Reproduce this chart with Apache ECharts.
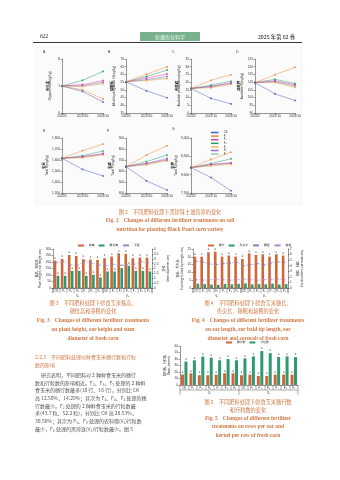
<!DOCTYPE html>
<html><head><meta charset="utf-8">
<script src="https://cdn.jsdelivr.net/npm/echarts@6/dist/echarts.min.js"></script>
<style>html,body{margin:0;padding:0;background:#fff}#c{width:340px;height:480px}</style>
</head><body><div id="c"></div>
<script>
// ---------- DATA ----------
const dates = ['2022/5', '2022/10', '2023/10'];
const treatments = ['CK', 'F₁', 'F₂', 'F₃', 'F₄', 'F₅', 'F₆'];
// Fig 2 panels: rows = CK, F1..F6 ; columns = dates
const soilA = [[7.0,6.80,6.41],[7.0,6.86,6.52],[7.0,7.05,7.20],[7.0,7.21,7.54],[7.0,6.98,7.08],[7.0,7.01,7.14],[7.0,6.99,7.10]];
const soilB = [[55.2,49.4,44.9],[55.2,60.1,64.9],[55.2,57.6,60.3],[55.2,58.7,62.8],[55.2,56.0,57.2],[55.2,56.6,58.7],[55.2,56.3,57.6]];
const soilC = [[15.9,9.5,5.9],[15.9,21.2,24.8],[15.9,17.0,19.5],[15.9,18.0,20.6],[15.9,16.3,18.5],[15.9,17.4,19.2],[15.9,16.8,18.8]];
const soilD = [[109.7,102.4,98.1],[109.7,114.8,119.7],[109.7,110.8,108.3],[109.7,111.8,109.1],[109.7,109.6,106.9],[109.7,110.4,107.6],[109.7,110.0,106.5]];
const soilE = [[1615,1515,1455],[1615,1685,1745],[1615,1630,1655],[1615,1639,1682],[1615,1620,1645],[1615,1628,1660],[1615,1624,1650]];
const soilF = [[640,510,427],[640,745,830],[640,670,700],[640,685,745],[640,655,690],[640,665,715],[640,660,705]];
const soilG = [[8192,7923,7560],[8192,8416,8612],[8192,8280,8310],[8192,8300,8435],[8192,8235,8281],[8192,8270,8327],[8192,8250,8300]];
const yTicksA = [6.0, 8.0, 1.0];
const yTicksB = [35, 70, 5];
const yTicksC = [0, 35, 5];
const yTicksD = [90, 125, 5];
const yTicksE = [1300, 1800, 100];
const yTicksF = [400, 900, 100];
const yTicksG = [7500, 9000, 500];

const barCats = ['CK','F₁','F₂','F₃','F₄','F₅','F₆','CK','F₁','F₂','F₃','F₄','F₅','F₆'];
const varieties = ['V₁', 'V₂'];
// Fig 3
const plantHeight = [211,224,254,247,221,219,216,229,242,267,262,229,234,234];
const earHeight   = [94,94,132,132,94,102,81,127,127,153,170,132,132,127];
const stemDiam    = [2.61,2.71,2.37,2.31,2.78,2.54,2.37,2.27,2.44,2.31,2.37,2.44,2.71,2.61];
// Fig 4
const earLength = [20.1,20.1,22.9,23.3,20.1,20.8,20.1,18.6,22.2,21.2,21.6,20.1,21.6,20.8];
const baldTip   = [2.8,2.5,2.2,2.0,2.6,2.4,2.7,3.0,2.3,2.6,2.4,2.8,2.2,2.5];
const earDiam   = [4.8,4.6,4.3,4.2,4.4,4.5,4.6,4.0,4.2,4.4,4.1,4.5,4.7,4.6];
const cobDiam   = [1.5,1.4,1.5,1.6,1.5,1.4,1.5,1.6,1.5,1.4,1.5,1.5,1.6,1.5];
// Fig 5
const rowsPerEar    = [16,18,15,15,16,18,18,15,16,14,14,16,16,16];
const kernelsPerRow = [36,38,43.7,42,38,40,38,41,44,52.2,49,43,44,43];

// ---------- STYLE ----------
const lineColors = ['#4d5cc4','#ef8a3c','#d2459a','#2a9d6e','#f3b65c','#9b6ad6','#8fcf9b'];
const ORANGE = '#d0663a', GREEN = '#2e9a70';
const CJK = '"Noto Sans CJK SC", sans-serif';
const SERIF = '"Liberation Serif","DejaVu Serif",serif';
const capColor = '#cf7a45';

const chart = echarts.init(document.getElementById('c'), null, {renderer: 'canvas'});

const grids = [], xAxes = [], yAxes = [], series = [];
const smallAxis = {
  axisLine: {show: true, lineStyle: {color: '#333', width: 0.5}},
  axisTick: {show: true, length: 1.5, lineStyle: {color: '#333', width: 0.5}},
  splitLine: {show: false},
  axisLabel: {fontSize: 3.2, color: '#333', margin: 2, fontFamily: 'Liberation Sans'}
};
function soilPanel(left, top, w, h, data, ticks, nameCn, nameEn) {
  const gi = grids.length;
  grids.push({left, top, width: w, height: h});
  xAxes.push(Object.assign({}, smallAxis, {type: 'category', gridIndex: gi, data: dates, boundaryGap: false,
    axisLabel: Object.assign({}, smallAxis.axisLabel, {interval: 0})}));
  yAxes.push(Object.assign({}, smallAxis, {type: 'value', gridIndex: gi, min: ticks[0], max: ticks[1], interval: ticks[2],
    name: '{a|' + nameCn + '}\n{b|' + nameEn + '}', nameLocation: 'middle', nameGap: 10, nameRotate: 90,
    nameTextStyle: {rich: {a: {fontSize: 3.4, fontWeight: 'bold', fontFamily: CJK, color: '#222'}, b: {fontSize: 3.2, color: '#222'}}}}));
  const ax = xAxes.length - 1;
  data.forEach((row, i) => {
    series.push({type: 'line', name: treatments[i], xAxisIndex: ax, yAxisIndex: ax, data: row,
      symbol: 'rect', symbolSize: 1.6, lineStyle: {width: 0.5, color: lineColors[i]},
      itemStyle: {color: lineColors[i]}, z: 10 - i});
  });
}
soilPanel(62, 59, 41, 54, soilA, yTicksA, '有机质', 'Organic matter(g/kg)');
soilPanel(126, 59, 41, 54, soilB, yTicksB, '碱解氮', 'Alkali-hydrolyzable N(mg/kg)');
soilPanel(191, 59, 40, 54, soilC, yTicksC, '有效磷', 'Available phosphorus(mg/kg)');
soilPanel(255, 59, 40, 54, soilD, yTicksD, '速效钾', 'Available K(mg/kg)');
soilPanel(62, 138, 41, 55, soilE, yTicksE, '全氮', 'Total N(mg/kg)');
soilPanel(126, 138, 41, 55, soilF, yTicksF, '全磷', 'Total P(mg/kg)');
soilPanel(191, 138, 40, 55, soilG, yTicksG, '全钾', 'Total K(mg/kg)');

// bar panels
function barPanel(left, top, w, h, leftAx, rightAx, nameL, nameR) {
  const gi = grids.length;
  grids.push({left, top, width: w, height: h});
  const xi = xAxes.length;
  xAxes.push({type: 'category', gridIndex: gi, data: barCats, position: 'bottom',
    axisLine: {show: true, lineStyle: {color: '#333', width: 0.5}},
    axisTick: {show: true, interval: 0, length: 5, lineStyle: {color: '#333', width: 0.4}},
    axisLabel: {interval: 0, fontSize: 3, color: '#333', margin: 1.5}});
  xAxes.push({type: 'category', gridIndex: gi, data: varieties, position: 'bottom', offset: 5,
    axisLine: {show: true, lineStyle: {color: '#333', width: 0.4}},
    axisTick: {show: true, length: 5, lineStyle: {color: '#333', width: 0.4}},
    axisLabel: {fontSize: 3, color: '#333', margin: 1.2}});
  const yi = yAxes.length;
  yAxes.push(Object.assign({}, smallAxis, {type: 'value', gridIndex: gi, min: leftAx[0], max: leftAx[1], interval: leftAx[2], position: 'left',
    name: nameL, nameLocation: 'middle', nameGap: 8, nameRotate: 90, nameTextStyle: {fontSize: 3, color: '#222', fontFamily: CJK, lineHeight: 3.6}}));
  if (rightAx) yAxes.push(Object.assign({}, smallAxis, {type: 'value', gridIndex: gi, min: rightAx[0], max: rightAx[1], interval: rightAx[2], position: 'right',
    name: nameR, nameLocation: 'middle', nameGap: 8, nameRotate: 90, nameTextStyle: {fontSize: 3, color: '#222', fontFamily: CJK, lineHeight: 3.6}}));
  return {xi, yi};
}
const barLabel = {show: true, position: 'top', fontSize: 2.6, color: '#333', distance: 1, formatter: 'a'};

// Fig 3
let p = barPanel(53, 249, 99, 39, [0, 300, 50], [0, 4, 0.5], '株高、穗位高\nPlant height, ear height(cm)', '茎粗\nStem diameter(cm)');
series.push({type: 'bar', name: '株高', xAxisIndex: p.xi, yAxisIndex: p.yi, data: plantHeight, barWidth: 2.6, barGap: '15%', itemStyle: {color: ORANGE}, label: barLabel});
series.push({type: 'bar', name: '穗位高', xAxisIndex: p.xi, yAxisIndex: p.yi, data: earHeight, barWidth: 2.6, itemStyle: {color: GREEN}, label: barLabel});
series.push({type: 'line', name: '茎粗', xAxisIndex: p.xi, yAxisIndex: p.yi + 1, data: stemDiam, symbol: 'circle', symbolSize: 1.5,
  lineStyle: {width: 0.5, color: '#8a93c8', type: 'dashed'}, itemStyle: {color: '#8a93c8'}});
// Fig 4
p = barPanel(193, 249, 95, 39, [0, 25, 5], [0, 7, 1], '穗长、秃尖长\nEar length, bald tip length(cm)', '穗粗、轴粗\nEar diameter, corncob(cm)');
series.push({type: 'bar', name: '穗长', xAxisIndex: p.xi, yAxisIndex: p.yi, data: earLength, barWidth: 2.6, barGap: '15%', itemStyle: {color: ORANGE}, label: barLabel});
series.push({type: 'bar', name: '秃尖长', xAxisIndex: p.xi, yAxisIndex: p.yi, data: baldTip, barWidth: 2.6, itemStyle: {color: GREEN}});
series.push({type: 'line', name: '穗粗', xAxisIndex: p.xi, yAxisIndex: p.yi + 1, data: earDiam, symbol: 'circle', symbolSize: 1.5,
  lineStyle: {width: 0.5, color: '#7b86c9', type: 'dashed'}, itemStyle: {color: '#7b86c9'}});
series.push({type: 'line', name: '轴粗', xAxisIndex: p.xi, yAxisIndex: p.yi + 1, data: cobDiam, symbol: 'circle', symbolSize: 1.5,
  lineStyle: {width: 0.5, color: '#b48ad0', type: 'dashed'}, itemStyle: {color: '#b48ad0'}});
// Fig 5
p = barPanel(180, 346, 118, 39, [0, 60, 10], null, '穗行数、行粒数\nRows, kernels', '');
series.push({type: 'bar', name: '穗行数', xAxisIndex: p.xi, yAxisIndex: p.yi, data: rowsPerEar, barWidth: 3, barGap: '15%', itemStyle: {color: ORANGE}, label: barLabel});
series.push({type: 'bar', name: '行粒数', xAxisIndex: p.xi, yAxisIndex: p.yi, data: kernelsPerRow, barWidth: 3, itemStyle: {color: GREEN}, label: barLabel});

// ---------- TEXT ----------
function t(x, y, text, opts) {
  return Object.assign({type: 'text', x, y, silent: true, style: Object.assign({text, fill: '#333', font: '5px ' + CJK, align: 'left', verticalAlign: 'middle'}, opts || {})});
}
const capCn = (x, y, s) => t(x, y, s, {fill: capColor, font: '5.2px ' + CJK, align: 'center'});
const capEn = (x, y, s) => t(x, y, s, {fill: capColor, font: 'bold 5.4px ' + SERIF, align: 'center'});
const body = [
  '研究表明，不同肥料对 2 种鲜食玉米的穗行',
  '数和行粒数的影响相近。F₂、F₃、F₅ 处理的 2 种鲜',
  '食玉米的穗行数最多(18 行、16 行)，分别比 CK',
  '高 12.50%、14.29%；其次为 F₁、F₄、F₆ 处理的穗',
  '行数最少。F₂ 处理的 2 种鲜食玉米的行粒数最',
  '多(43.7 粒、52.2 粒)，分别比 CK 高 28.53%、',
  '30.50%；其次为 F₅、F₃ 处理的农科糯(V₁)行粒数',
  '最少，F₆ 处理的黑珍珠(V₂)行粒数最少。图 5'
];
const graphics = [
  {type: 'rect', shape: {x: 36, y: 47, width: 266, height: 158}, style: {fill: '#fbfbfb', stroke: '#eeeeee', lineWidth: 0.5}, z: -10, silent: true},
  t(40, 37, '622', {font: '5.5px ' + SERIF, fill: '#222'}),
  {type: 'rect', shape: {x: 140, y: 32, width: 60, height: 9}, style: {fill: '#79b08e'}, silent: true},
  t(170, 36.7, '新疆农业科学', {fill: '#eaf4ec', font: '5px ' + CJK, align: 'center'}),
  t(295, 37, '2025 年第 62 卷', {fill: '#222', font: '5.3px ' + CJK, align: 'right'}),
  {type: 'line', shape: {x1: 33, y1: 42.5, x2: 302, y2: 42.5}, style: {stroke: '#222', lineWidth: 0.9}, silent: true},
  t(43, 52, 'A', {font: '3.5px Liberation Sans'}), t(108, 52, 'B', {font: '3.5px Liberation Sans'}),
  t(172, 52, 'C', {font: '3.5px Liberation Sans'}), t(236, 52, 'D', {font: '3.5px Liberation Sans'}),
  t(43, 131, 'E', {font: '3.5px Liberation Sans'}), t(107, 131, 'F', {font: '3.5px Liberation Sans'}),
  t(172, 129, 'G', {font: '3.5px Liberation Sans'}),
  capCn(170, 212, '图 2　不同肥料处理下黑珍珠土壤营养的变化'),
  capEn(170, 221, 'Fig. 2　Changes of different fertilizer treatments on soil'),
  capEn(170, 229.5, 'nutrition for planting Black Pearl corn variety'),
  capCn(93, 303, '图 3　不同肥料处理下鲜食玉米株高、'),
  capCn(93, 311, '穗位高和茎粗的变化'),
  capEn(93, 321, 'Fig. 3　Changes of different fertilizer treatments'),
  capEn(93, 330, 'on plant height, ear height and stem'),
  capEn(93, 338.5, 'diameter of fresh corn'),
  capCn(248, 303, '图 4　不同肥料处理下鲜食玉米穗长、'),
  capCn(248, 311, '秃尖长、穗粗和轴粗的变化'),
  capEn(248, 321, 'Fig. 4　Changes of different fertilizer treatments'),
  capEn(248, 330, 'on ear length, ear bald tip length, ear'),
  capEn(248, 338.5, 'diameter and corncob of fresh corn'),
  capCn(248, 402, '图 5　不同肥料处理下鲜食玉米穗行数'),
  capCn(248, 410, '和行粒数的变化'),
  capEn(248, 418.5, 'Fig. 5　Changes of different fertilizer'),
  capEn(248, 427, 'treatments on rows per ear and'),
  capEn(248, 435.5, 'kernel per row of fresh corn'),
  t(35, 357, '2.2.3　不同肥料处理对鲜食玉米穗行数和行粒', {fill: capColor, font: '5px ' + CJK}),
  t(35, 365, '数的影响', {fill: capColor, font: '5px ' + CJK})
];
body.forEach((s, i) => graphics.push(t(i === 0 ? 41 : 35, 375 + i * 7.7, s, {fill: '#555', font: '5px ' + CJK})));

chart.setOption({
  animation: false,
  textStyle: {fontFamily: 'Liberation Sans'},
  grid: grids, xAxis: xAxes, yAxis: yAxes, series,
  legend: [
    {data: treatments, orient: 'vertical', left: 211, top: 131, itemWidth: 8, itemHeight: 1.5, itemGap: 0.6,
     textStyle: {fontSize: 2.8, color: '#333', padding: 0}, padding: 0, icon: 'path://M0,4h10v2h-10z'},
    {data: ['株高', '穗位高', '茎粗'], left: 78, top: 244, itemWidth: 6, itemHeight: 2, itemGap: 4, padding: 0,
     textStyle: {fontSize: 2.8, color: '#333', fontFamily: CJK}},
    {data: ['穗长', '秃尖长', '穗粗', '轴粗'], left: 208, top: 244, itemWidth: 6, itemHeight: 2, itemGap: 4, padding: 0,
     textStyle: {fontSize: 2.8, color: '#333', fontFamily: CJK}},
    {data: ['穗行数', '行粒数'], left: 226, top: 341, itemWidth: 6, itemHeight: 2, itemGap: 4, padding: 0,
     textStyle: {fontSize: 2.8, color: '#333', fontFamily: CJK}}
  ],
  graphic: graphics
});
</script></body></html>
